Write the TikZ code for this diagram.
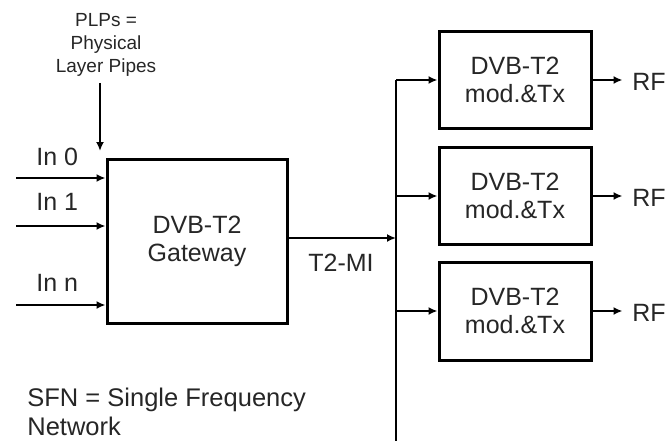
\documentclass[tikz,border=0pt]{standalone}
\usepackage{fontspec}
\setmainfont{Liberation Sans}
\usetikzlibrary{arrows.meta}
\begin{document}
\begin{tikzpicture}[x=1pt,y=-1pt,
  line width=2.8pt,
  arr/.style={-{Latex[length=9pt,width=8pt]}},
  blk/.style={draw,line width=3pt,inner sep=0pt,align=center,font=\fontsize{25}{28}\selectfont},
  lbl/.style={font=\fontsize{25}{28}\selectfont,inner sep=0pt,text=black!85},
  small/.style={font=\fontsize{19}{23}\selectfont,inner sep=0pt,align=center,text=black!85}]
\useasboundingbox (0,0) rectangle (668,441);
% gateway
\node[blk,minimum width=180pt,minimum height=164pt,text=black!85] (gw) at (197,241) {DVB-T2\\Gateway};
% inputs
\coordinate (i0) at (16,178);
\coordinate (i1) at (16,226);
\coordinate (in) at (16,305);
\draw[arr] (i0) -- (i0 -| gw.west);
\draw[arr] (i1) -- (i1 -| gw.west);
\draw[arr] (in) -- (in -| gw.west);
\node[lbl,anchor=west] (l0) at (35,157) {In 0};
\node[lbl,anchor=west] (l1) at (35,202) {In 1};
\node[lbl,anchor=west] (ln) at (35,283) {In n};
% PLPs
\node[small] (plp) at (106,45) {PLPs =\\Physical\\Layer Pipes};
\coordinate (pa) at (100,83);
\coordinate (pb) at (100,151);
\draw[arr] (pa) -- (pb);
% bus
\coordinate (btop) at (396,80);
\coordinate (bbot) at (396,441);
\coordinate (bo) at (396,238);
\draw (btop) -- (bbot);
\draw[arr] (gw.east |- bo) -- (bo);
\node[lbl] (t2mi) at (341,263) {T2-MI};
% modulators
\node[blk,minimum width=152pt,minimum height=96pt,text=black!85] (m1) at (515,80) {DVB-T2\\mod.\&Tx};
\node[blk,minimum width=152pt,minimum height=97pt,text=black!85] (m2) at (515,196) {DVB-T2\\mod.\&Tx};
\node[blk,minimum width=152pt,minimum height=98pt,text=black!85] (m3) at (515,311) {DVB-T2\\mod.\&Tx};
\foreach \m in {m1,m2,m3}{
  \draw[arr] (btop |- \m.west) -- (\m.west);
  \draw[arr] (\m.east) -- ++(30,0) coordinate (\m o);
}
\node[lbl,anchor=west] (rf1) at (631,82) {RF};
\node[lbl,anchor=west] (rf2) at (631,198) {RF};
\node[lbl,anchor=west] (rf3) at (631,313) {RF};
% SFN
\node[lbl,anchor=north west,align=left,font=\fontsize{25.5}{29}\selectfont] (sfn) at (26,387) {SFN = Single Frequency\\Network};
\end{tikzpicture}
\end{document}
